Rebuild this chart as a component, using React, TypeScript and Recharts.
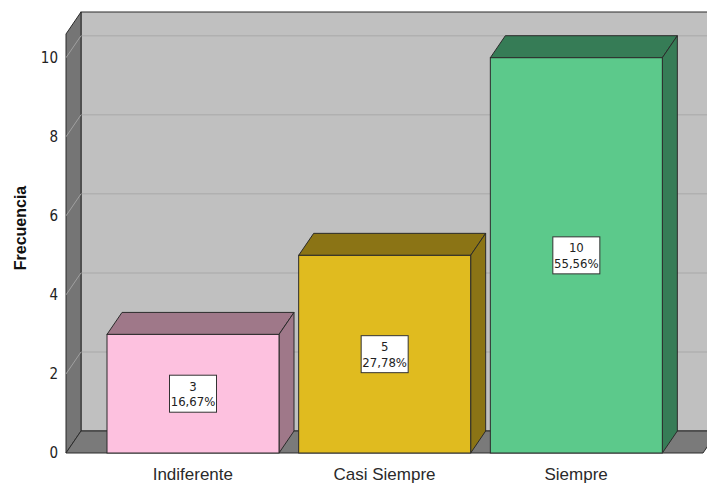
import { BarChart, Bar, XAxis, YAxis, ReferenceArea, LabelList } from 'recharts';

const categories = ['Indiferente', 'Casi Siempre', 'Siempre'];
const frequencies = [3, 5, 10];
const percentLabels = ['16,67%', '27,78%', '55,56%'];
const yTicks = [0, 2, 4, 6, 8, 10];
const Y_MAX = 10.6;

const frontColors = ['#fdc1df', '#e0bb1f', '#5cc98b'];
const sideColors = ['#9f7889', '#8b7415', '#367c56'];

const CHART_W = 707;
const CHART_H = 484;
const MARGIN = { top: 34, right: 4, bottom: 1, left: 36 };
const Y_AXIS_W = 30;
const X_AXIS_H = 30;
// 3D depth offset
const DX = 15;
const DY = -22;
const EDGE = '#2b2b2b';
const NARROW = "'Liberation Sans Narrow', 'Arial Narrow', 'DejaVu Sans Condensed', 'Liberation Sans', Arial, sans-serif";
const SANS = "'Liberation Sans', Arial, sans-serif";

const data = categories.map((name, i) => ({
  name,
  frecuencia: frequencies[i],
  pct: percentLabels[i],
}));

// back wall, left wall, floor and grid lines, drawn from the area the y axis spans
function Walls(props: any) {
  const { y, height } = props;
  const L = MARGIN.left + Y_AXIS_W;
  const R = CHART_W - MARGIN.right;
  const T = y;
  const B = y + height;
  const py = (v: number) => y + height * (1 - v / Y_MAX);
  return (
    <g>
      <rect x={L + DX} y={T + DY} width={R - L + 20} height={B - T} fill="#c0c0c0" stroke={EDGE} strokeWidth={1} />
      {yTicks.filter((v) => v > 0).map((v) => (
        <line key={'g' + v} x1={L + DX} x2={R + DX + 20} y1={py(v) + DY} y2={py(v) + DY} stroke="#b0b0b0" strokeWidth={1.5} />
      ))}
      <polygon
        points={`${L},${B} ${L},${T} ${L + DX},${T + DY} ${L + DX},${B + DY}`}
        fill="#757575"
        stroke={EDGE}
        strokeWidth={1}
      />
      {yTicks.filter((v) => v > 0).map((v) => (
        <line key={'d' + v} x1={L} y1={py(v)} x2={L + DX} y2={py(v) + DY} stroke="#a0a0a0" strokeWidth={1} />
      ))}
      <polygon
        points={`${L},${B} ${R},${B} ${R + DX},${B + DY} ${L + DX},${B + DY}`}
        fill="#7a7a7a"
        stroke={EDGE}
        strokeWidth={1}
      />
    </g>
  );
}

function Bar3D(props: any) {
  const { x, y, width, height, index } = props;
  const side = sideColors[index % sideColors.length];
  const front = frontColors[index % frontColors.length];
  return (
    <g>
      <polygon
        points={`${x},${y} ${x + DX},${y + DY} ${x + width + DX},${y + DY} ${x + width},${y}`}
        fill={side}
        stroke={EDGE}
        strokeWidth={1}
      />
      <polygon
        points={`${x + width},${y} ${x + width + DX},${y + DY} ${x + width + DX},${y + height + DY} ${x + width},${y + height}`}
        fill={side}
        stroke={EDGE}
        strokeWidth={1}
      />
      <rect x={x} y={y} width={width} height={height} fill={front} stroke={EDGE} strokeWidth={1} />
    </g>
  );
}

function ValueBox(props: any) {
  const { x, y, width, height, index } = props;
  const cx = x + width / 2;
  const cy = y + height / 2;
  return (
    <g>
      <rect x={cx - 23.5} y={cy - 18.5} width={47} height={37} fill="#ffffff" stroke="#333" strokeWidth={1} />
      <text x={cx} y={cy - 7.5} textAnchor="middle" dominantBaseline="central" fontFamily={NARROW} fontSize={13} fill="#222">
        {frequencies[index]}
      </text>
      <text x={cx} y={cy + 8} textAnchor="middle" dominantBaseline="central" fontFamily={NARROW} fontSize={13} fill="#222">
        {percentLabels[index]}
      </text>
    </g>
  );
}

export default function App() {
  return (
    <div style={{ position: 'absolute', left: 0, top: 0, width: CHART_W, height: CHART_H, background: '#fff' }}>
      <BarChart width={CHART_W} height={CHART_H} data={data} margin={MARGIN}>
        <XAxis
          dataKey="name"
          height={X_AXIS_H}
          padding={{ left: 31, right: 31 }}
          axisLine={false}
          tickLine={false}
          tickSize={0}
          tickMargin={15}
          tick={{ fontFamily: SANS, fontSize: 17, fill: '#2a2a2a' }}
        />
        <YAxis
          width={Y_AXIS_W}
          domain={[0, Y_MAX]}
          ticks={yTicks}
          axisLine={false}
          tickLine={false}
          tickSize={0}
          tickMargin={8}
          tick={{ fontFamily: NARROW, fontSize: 15, fill: '#222' }}
          label={{
            content: () => (
              <text
                x={20}
                y={228}
                transform="rotate(-90 20 228)"
                textAnchor="middle"
                dominantBaseline="central"
                fontFamily={SANS}
                fontSize={16}
                fontWeight="bold"
                fill="#111"
              >
                Frecuencia
              </text>
            ),
          }}
        />
        <ReferenceArea y1={0} y2={Y_MAX} ifOverflow="visible" shape={Walls} />
        <Bar dataKey="frecuencia" barSize={172} shape={Bar3D} isAnimationActive={false}>
          <LabelList dataKey="frecuencia" content={ValueBox} />
        </Bar>
      </BarChart>
    </div>
  );
}
